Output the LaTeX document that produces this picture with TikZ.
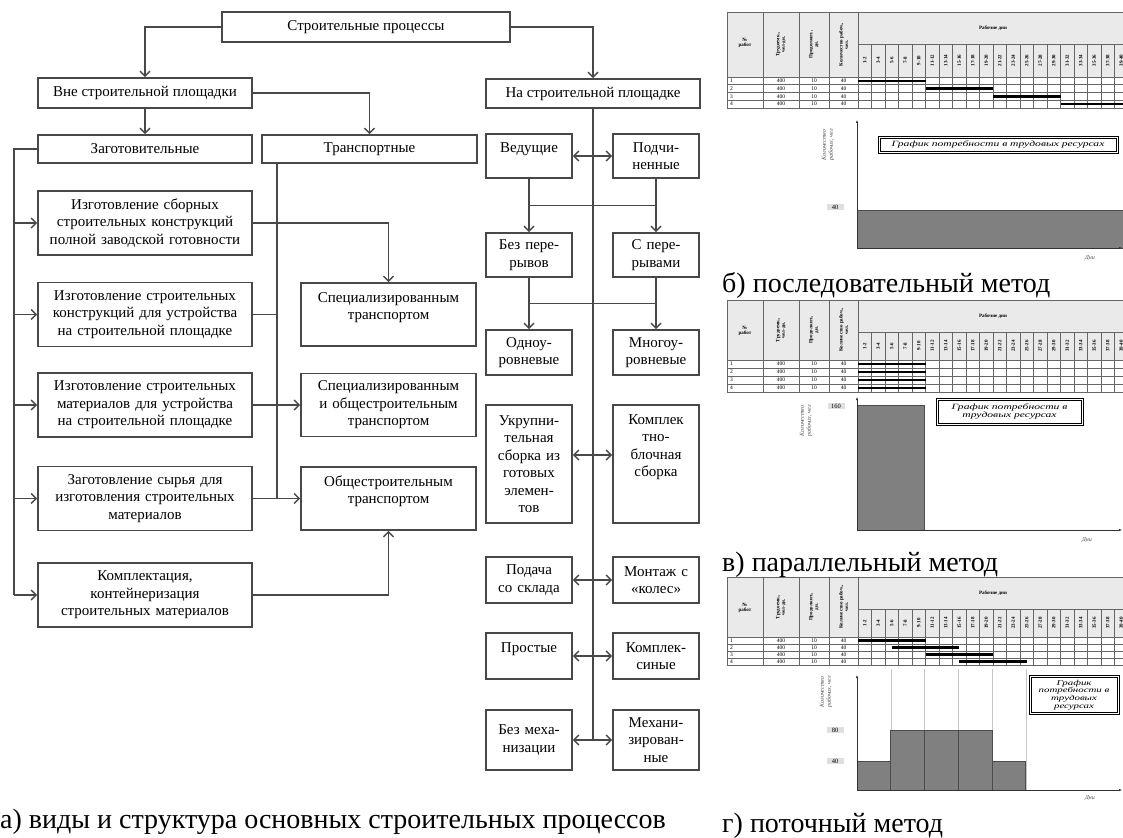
\documentclass[tikz,border=0pt]{standalone}
\usepackage{fontspec}
\setmainfont{Liberation Serif}
\newfontfamily\legfont[FakeStretch=1.45]{Liberation Serif}
\usetikzlibrary{arrows.meta, calc}
\definecolor{lineclr}{RGB}{72,72,72}
\definecolor{barclr}{RGB}{128,128,128}
\definecolor{headclr}{RGB}{234,234,234}

\tikzset{
  box/.style={draw=lineclr, line width=1.6pt, align=center, inner xsep=2pt, inner ysep=2pt, font=\fontsize{15}{17.5}\selectfont},
  big/.style={box, text width=208pt, minimum width=214pt, minimum height=64pt},
  side/.style={box, text width=170pt, minimum width=175pt, minimum height=63pt},
  small/.style={box, text width=82pt, minimum width=86pt},
  hangtop/.style={text height=17pt, text depth=#1},
  conn/.style={lineclr, line width=1.4pt},
  tab/.style={black!60, line width=.5pt},
  headlab/.style={font=\fontsize{5}{5.5}\selectfont\bfseries, inner sep=0pt, align=center},
  cell/.style={font=\fontsize{5.5}{6}\selectfont, inner sep=0pt},
  job/.style={line width=2.4pt},
  histbar/.style={fill=barclr, draw=black!70, line width=.6pt},
  axis/.style={black!80, line width=.7pt},
  vlab/.style={fill=gray!25, font=\fontsize{6.5}{7}\selectfont, inner sep=1pt, minimum width=17pt},
  legend/.style={draw=black, double=white, double distance=.8pt, line width=1.1pt, fill=white, align=center, font=\legfont\itshape\fontsize{8}{8.5}\selectfont, inner sep=1pt},
  ylab/.style={rotate=90, align=center, font=\itshape\fontsize{6}{7}\selectfont, text=black!70, inner sep=0pt},
  dayslab/.style={font=\itshape\fontsize{6}{7}\selectfont, text=black!70, inner sep=0pt},
  capt/.style={anchor=west, inner sep=0pt, font=\fontsize{28}{30}\selectfont}
}

\begin{document}
\begin{tikzpicture}[x=1pt, y=-1pt, >={Straight Barb[length=5pt,width=10pt]}]
  \useasboundingbox (0,0) rectangle (1123,837);

  % upper levels
  \node[box, minimum width=288pt, minimum height=30pt] (sp) at (366,27) {Строительные процессы};
  \node[box, minimum width=214pt, minimum height=30pt] (vne) at (145,93) {Вне строительной площадки};
  \node[box, minimum width=214pt, minimum height=29pt] (na) at (593,93.5) {На строительной площадке};
  \node[box, minimum width=214pt, minimum height=28pt] (zag) at (145,149) {Заготовительные};
  \node[box, minimum width=215pt, minimum height=28pt] (trans) at (369.5,149) {Транспортные};

  % off-site processes
  \node[big] (izg1) at (145,223) {Изготовление сборных\\строительных конструкций\\полной заводской готовности};
  \node[big] (izg2) at (145,314.5) {Изготовление строительных\\конструкций для устройства\\на строительной площадке};
  \node[big] (izg3) at (145,405) {Изготовление строительных\\материалов для устройства\\на строительной площадке};
  \node[big] (syr) at (145,498.5) {Заготовление сырья для\\изготовления строительных\\материалов};
  \node[big] (kompl) at (145,595) {Комплектация,\\контейнеризация\\строительных материалов};

  \node[side, hangtop=42pt] (spec) at (388.5,314.5) {Специализированным\\транспортом};
  \node[side] (specob) at (388.5,405) {Специализированным\\и общестроительным\\транспортом};
  \node[side, hangtop=42pt] (obsh) at (388.5,498.5) {Общестроительным\\транспортом};

  % on-site processes
  \node[small, minimum height=44pt, hangtop=23pt] (ved) at (529,156) {Ведущие};
  \node[small, minimum height=44pt] (podch) at (656,156) {Подчи-\\ненные};
  \node[small, minimum height=44pt] (bezper) at (529,255) {Без пере-\\рывов};
  \node[small, minimum height=44pt] (sper) at (656,255) {С пере-\\рывами};
  \node[small, minimum height=45pt] (odno) at (529,352.5) {Одноу-\\ровневые};
  \node[small, minimum height=45pt] (mnogo) at (656,352.5) {Многоу-\\ровневые};
  \node[small, minimum height=118pt] (ukr) at (529,464) {Укрупни-\\тельная\\сборка из\\готовых\\элемен-\\тов};
  \node[small, minimum height=118pt, hangtop=97pt] (kbs) at (656,464) {Комплек\\тно-\\блочная\\сборка};
  \node[small, minimum height=46pt] (podacha) at (529,580) {Подача\\со склада};
  \node[small, minimum height=46pt] (montazh) at (656,580) {Монтаж с\\«колес»};
  \node[small, minimum height=46pt, hangtop=25pt] (prost) at (529,656) {Простые};
  \node[small, minimum height=46pt] (kompleks) at (656,656) {Комплек-\\синые};
  \node[small, minimum height=60pt] (bezmeh) at (529,740) {Без меха-\\низации};
  \node[small, minimum height=60pt] (meh) at (656,740) {Механи-\\зирован-\\ные};

  % connectors, left part
  \draw[conn,->] (sp.west) -| (vne.north);
  \draw[conn,->] (sp.east) -| (na.north);
  \draw[conn,->] (vne.south) -- (zag.north);
  \draw[conn,->] (vne.east) -| (trans.north);
  \coordinate (lbus) at (14,595);
  \draw[conn] (zag.west) -| (lbus);
  \foreach \n in {izg1,izg2,izg3,syr,kompl}
    \draw[conn,->] (lbus |- \n.west) -- (\n.west);
  \draw[conn,->] (izg1.east) -| (spec.north);
  \coordinate (tbus) at (277,498.5);
  \draw[conn] (tbus |- trans.south) -- (tbus);
  \draw[conn] (izg2.east) -- (tbus |- izg2.east);
  \draw[conn,->] (izg3.east) -- (specob.west);
  \draw[conn,->] (syr.east) -- (obsh.west);
  \draw[conn,->] (kompl.east) -| (obsh.south);

  % connectors, right part
  \coordinate (cbus) at (593,740);
  \draw[conn] (na.south) -- (cbus);
  \draw[conn,<->] (ved.east) -- (podch.west);
  \draw[conn,<->] ([yshift=9pt]ukr.east) -- ([yshift=9pt]kbs.west);
  \draw[conn,<->] (podacha.east) -- (montazh.west);
  \draw[conn,<->] (prost.east) -- (kompleks.west);
  \draw[conn,<->] (bezmeh.east) -- (meh.west);
  \draw[conn,->] (ved.south) -- (bezper.north);
  \draw[conn,->] (podch.south) -- (sper.north);
  \draw[conn] ($(ved.south)!.5!(bezper.north)$) -- ($(podch.south)!.5!(sper.north)$);
  \draw[conn,->] (bezper.south) -- (odno.north);
  \draw[conn,->] (sper.south) -- (mnogo.north);
  \draw[conn] ($(bezper.south)!.5!(odno.north)$) -- ($(sper.south)!.5!(mnogo.north)$);

  % work schedules (top, day-row bottom, row height, shift of bars)
  \foreach \T/\D/\R/\S in {12/65/7.75/67.5, 300/60/8/0, 577/60/7/33.75}{
    \fill[headclr] (727,\T) rectangle (1123,\T+\D);
    \draw[tab] (727,\T) rectangle (1123,\T+\D+4*\R);
    \foreach \x in {763,799,829,858}
      \draw[tab] (\x,\T) -- (\x,\T+\D+4*\R);
    \draw[tab] (858,\T+32) -- (1123,\T+32);
    \foreach \i in {0,...,3}
      \draw[tab] (727,\T+\D+\i*\R) -- (1123,\T+\D+\i*\R);
    \foreach \i in {1,...,19}
      \draw[tab] (858+\i*13.5,\T+32) -- (858+\i*13.5,\T+\D+4*\R);
    \foreach \i in {1,...,20}{
      \pgfmathtruncatemacro\da{2*\i-1}
      \pgfmathtruncatemacro\db{2*\i}
      \node[headlab, rotate=90] (day\T-\i) at (851.25+\i*13.5,\T+16+\D/2) {\da-\db};
    }
    \node[headlab] (nr\T) at (745,\T+31) {№\\работ};
    \node[headlab, rotate=90] (tr\T) at (781,\T+\D/2) {Трудоемк.,\\чел-дн.};
    \node[headlab, rotate=90] (pr\T) at (814,\T+\D/2) {Продолжит.,\\дн.};
    \node[headlab, rotate=90] (kr\T) at (843.5,\T+\D/2) {Количество рабоч.,\\чел.};
    \node[headlab] (rd\T) at (993,\T+16) {Рабочие дни};
    \foreach \i in {1,...,4}{
      \node[cell, anchor=west] (no\T-\i) at (730,\T+\D+\i*\R-\R/2) {\i};
      \node[cell] (tq\T-\i) at (781,\T+\D+\i*\R-\R/2) {400};
      \node[cell] (dq\T-\i) at (814,\T+\D+\i*\R-\R/2) {10};
      \node[cell] (kq\T-\i) at (843.5,\T+\D+\i*\R-\R/2) {40};
      \draw[job] (858+\i*\S-\S,\T+\D+\i*\R-\R/2) -- ++(67.5,0);
    }
  }

  % labour demand, sequential
  \filldraw[histbar] (857,210) rectangle (1123,248);
  \draw[axis,-{Latex[length=3pt,width=2.5pt]}] (857,248) -- (857,120);
  \draw[axis,-{Latex[length=3pt,width=2.5pt]}] (857,248) -- (1122,248);
  \node[vlab] (lbB) at (835,207) {40};
  \node[legend, minimum width=238pt, minimum height=15pt] (legB) at (998,145) {График потребности в трудовых ресурсах};
  \node[ylab] (ylB) at (828,145) {Количество\\рабочих, чел};
  \node[dayslab] (dnB) at (1090,258) {Дни};

  % labour demand, parallel
  \filldraw[histbar] (857,405) rectangle (924.5,530);
  \draw[axis,-{Latex[length=3pt,width=2.5pt]}] (857,530) -- (857,397);
  \draw[axis,-{Latex[length=3pt,width=2.5pt]}] (857,530) -- (1122,530);
  \node[vlab] (lbV) at (836,406) {160};
  \node[legend, minimum width=145pt, minimum height=25pt] (legV) at (1009.5,411.5) {График потребности в\\трудовых ресурсах};
  \node[ylab] (ylV) at (806,421) {Количество\\рабочих, чел};
  \node[dayslab] (dnV) at (1087,540) {Дни};

  % labour demand, flow
  \foreach \k in {1,...,5}
    \draw[gray!45, line width=.5pt] (857+\k*33.75,669) -- (857+\k*33.75,790);
  \foreach \k/\v in {0/29,1/60,2/60,3/60,4/29}
    \filldraw[histbar] (857+\k*33.75,790-\v) rectangle (890.75+\k*33.75,790);
  \draw[axis,-{Latex[length=3pt,width=2.5pt]}] (857,790) -- (857,675);
  \draw[axis,-{Latex[length=3pt,width=2.5pt]}] (857,790) -- (1122,790);
  \node[vlab] (lbG80) at (835,730) {80};
  \node[vlab] (lbG40) at (835,761) {40};
  \node[legend, minimum width=88pt, minimum height=37pt, font=\legfont\itshape\fontsize{7.5}{7.8}\selectfont] (legG) at (1074,695) {График\\потребности в\\трудовых\\ресурсах};
  \node[ylab] (ylG) at (826,692) {Количество\\рабочих, чел};
  \node[dayslab] (dnG) at (1090,798) {Дни};

  % captions
  \node[capt] (capA) at (0,822) {а) виды и структура основных строительных процессов};
  \node[capt] (capB) at (722,285) {б) последовательный метод};
  \node[capt] (capV) at (722,565) {в) параллельный метод};
  \node[capt] (capG) at (722,826) {г) поточный метод};
\end{tikzpicture}
\end{document}
